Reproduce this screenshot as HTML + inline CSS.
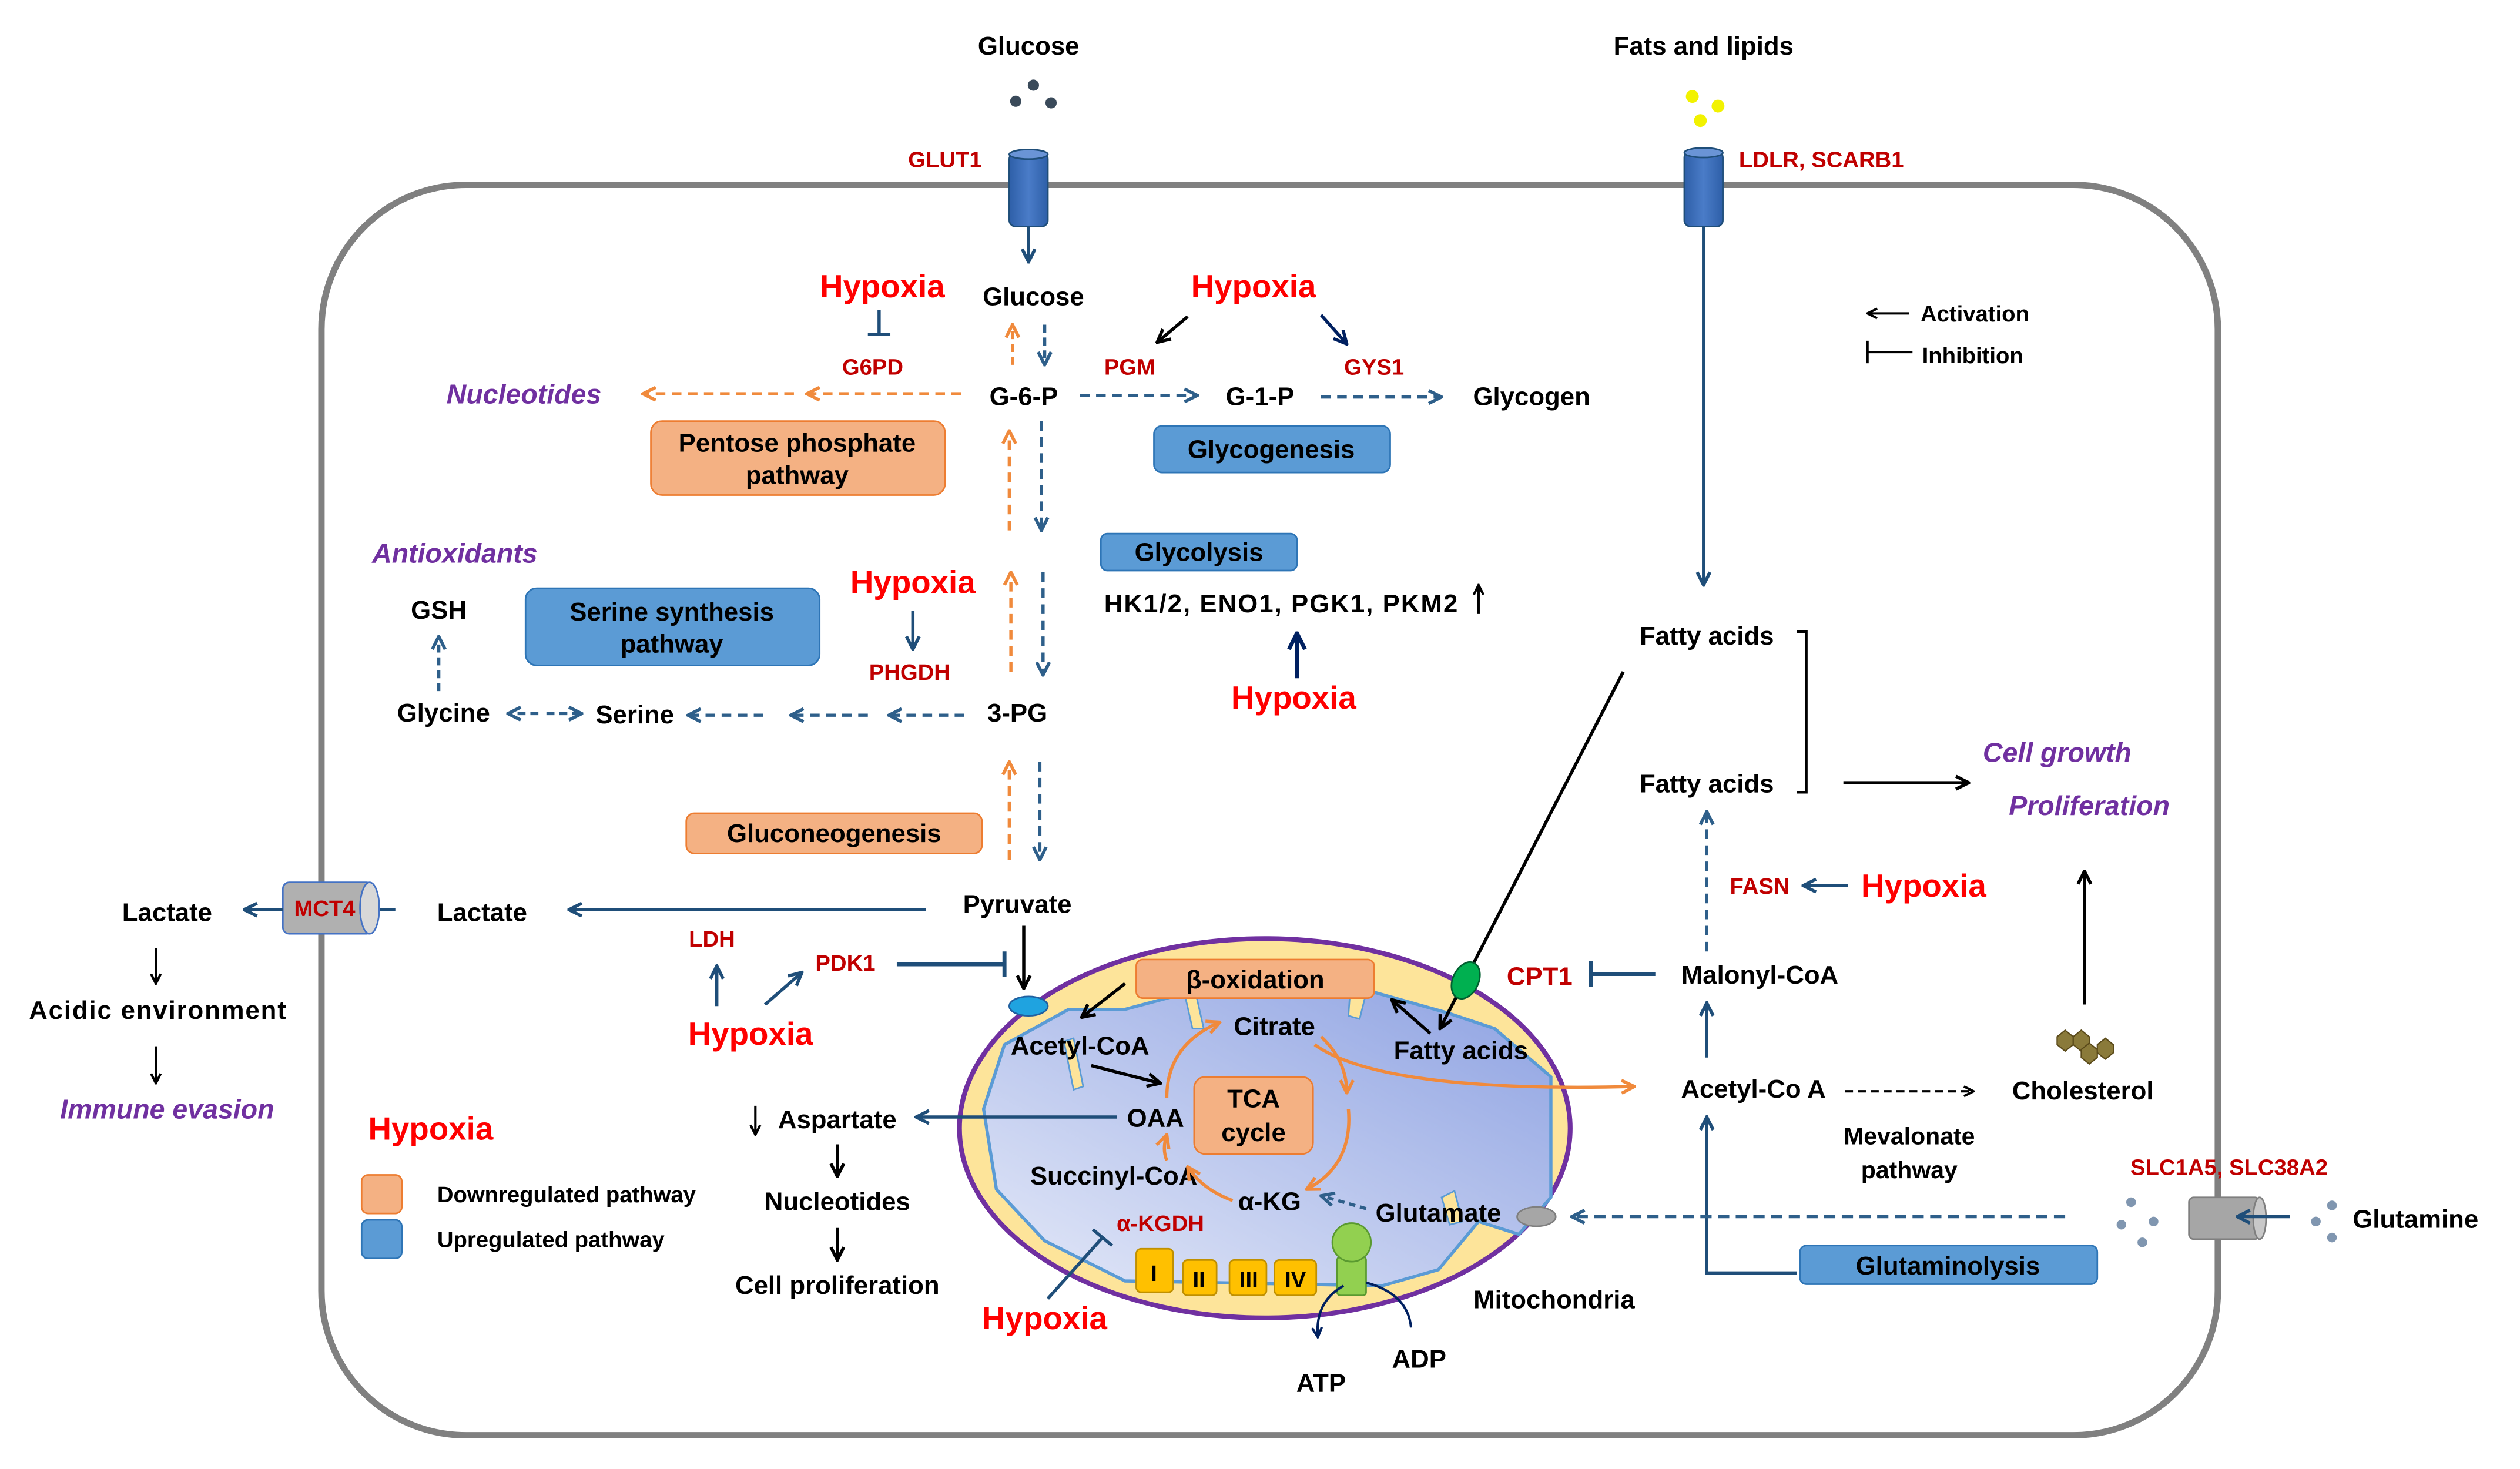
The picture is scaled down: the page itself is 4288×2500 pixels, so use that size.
<!DOCTYPE html>
<html><head><meta charset="utf-8"><style>
html,body{margin:0;padding:0;background:#fff}
svg{display:block}
text{font-family:"Liberation Sans",Arial,sans-serif;font-weight:bold}
</style></head><body>
<svg width="4288" height="2500" viewBox="0 0 1568 914" preserveAspectRatio="none" xmlns="http://www.w3.org/2000/svg">
<defs>
<marker id="ab" viewBox="0 0 10 10" refX="9" refY="5" markerWidth="5" markerHeight="5" orient="auto"><path d="M1 1L9 5L1 9" fill="none" stroke="#1f4e79" stroke-width="2"/></marker>
<marker id="ad" viewBox="0 0 10 10" refX="9" refY="5" markerWidth="5" markerHeight="5" orient="auto"><path d="M1 1L9 5L1 9" fill="none" stroke="#2e5f8a" stroke-width="2"/></marker>
<marker id="ak" viewBox="0 0 10 10" refX="9" refY="5" markerWidth="5" markerHeight="5" orient="auto"><path d="M1 1L9 5L1 9" fill="none" stroke="#000" stroke-width="2"/></marker>
<marker id="ao" viewBox="0 0 10 10" refX="9" refY="5" markerWidth="5" markerHeight="5" orient="auto"><path d="M1 1L9 5L1 9" fill="none" stroke="#f08a3c" stroke-width="2"/></marker>
<marker id="an" viewBox="0 0 10 10" refX="9" refY="5" markerWidth="5" markerHeight="5" orient="auto"><path d="M1 1L9 5L1 9" fill="none" stroke="#002060" stroke-width="2"/></marker>
<linearGradient id="mg" x1="0" y1="1" x2="1" y2="0"><stop offset="0" stop-color="#e4e9f8"/><stop offset="1" stop-color="#8ea2e2"/></linearGradient>
<linearGradient id="cb" x1="0" x2="1"><stop offset="0" stop-color="#2e5fa8"/><stop offset="0.5" stop-color="#4a7cc8"/><stop offset="1" stop-color="#2e5fa8"/></linearGradient>
</defs>

<rect x="200" y="115" width="1180" height="778" rx="90" fill="none" stroke="#808080" stroke-width="4"/>

<text x="640" y="34" font-size="16" text-anchor="middle">Glucose</text>
<circle cx="632" cy="63" r="3.5" fill="#3a4a5a"/><circle cx="643" cy="53" r="3.5" fill="#3a4a5a"/><circle cx="654" cy="64" r="3.5" fill="#3a4a5a"/>
<text x="588" y="104" font-size="14" fill="#c00000" text-anchor="middle">GLUT1</text>
<rect x="628" y="95" width="24" height="46" rx="4" fill="url(#cb)" stroke="#1f4e79"/>
<ellipse cx="640" cy="96" rx="12" ry="3" fill="#6a94d6" stroke="#1f4e79"/>
<line x1="640" y1="141" x2="640" y2="163" stroke="#1f4e79" stroke-width="2" marker-end="url(#ab)"/>

<text x="1060" y="34" font-size="16" text-anchor="middle">Fats and lipids</text>
<circle cx="1053" cy="60" r="4" fill="#f2f200"/><circle cx="1069" cy="66" r="4" fill="#f2f200"/><circle cx="1058" cy="75" r="4" fill="#f2f200"/>
<rect x="1048" y="94" width="24" height="47" rx="4" fill="url(#cb)" stroke="#1f4e79"/>
<ellipse cx="1060" cy="95" rx="12" ry="3" fill="#6a94d6" stroke="#1f4e79"/>
<text x="1082" y="104" font-size="14" fill="#c00000">LDLR, SCARB1</text>
<line x1="1060" y1="141" x2="1060" y2="364" stroke="#1f4e79" stroke-width="2" marker-end="url(#ab)"/>

<line x1="1188" y1="195" x2="1162" y2="195" stroke="#000" stroke-width="1.5" marker-end="url(#ak)"/>
<text x="1195" y="200" font-size="14">Activation</text>
<line x1="1162" y1="219" x2="1190" y2="219" stroke="#000" stroke-width="1.5"/><line x1="1162" y1="212" x2="1162" y2="226" stroke="#000" stroke-width="1.5"/>
<text x="1196" y="226" font-size="14">Inhibition</text>

<text x="549" y="185" font-size="20" fill="#ff0000" text-anchor="middle">Hypoxia</text>
<line x1="547" y1="193" x2="547" y2="208" stroke="#1f4e79" stroke-width="2"/><line x1="540" y1="208" x2="554" y2="208" stroke="#1f4e79" stroke-width="2"/>
<text x="543" y="233" font-size="14" fill="#c00000" text-anchor="middle">G6PD</text>
<text x="643" y="190" font-size="16" text-anchor="middle">Glucose</text>
<line x1="630" y1="227" x2="630" y2="202" stroke="#f08a3c" stroke-width="2" stroke-dasharray="5 3" marker-end="url(#ao)"/>
<line x1="650" y1="202" x2="650" y2="227" stroke="#2e5f8a" stroke-width="2" stroke-dasharray="5 3" marker-end="url(#ad)"/>
<text x="780" y="185" font-size="20" fill="#ff0000" text-anchor="middle">Hypoxia</text>
<line x1="739" y1="197" x2="720" y2="213" stroke="#000" stroke-width="2" marker-end="url(#ak)"/>
<line x1="822" y1="196" x2="838" y2="214" stroke="#002060" stroke-width="2" marker-end="url(#an)"/>
<text x="703" y="233" font-size="14" fill="#c00000" text-anchor="middle">PGM</text>
<text x="855" y="233" font-size="14" fill="#c00000" text-anchor="middle">GYS1</text>
<text x="326" y="251" font-size="17" fill="#7030a0" font-style="italic" text-anchor="middle">Nucleotides</text>
<line x1="598" y1="245" x2="502" y2="245" stroke="#f08a3c" stroke-width="2" stroke-dasharray="6 4" marker-end="url(#ao)"/>
<line x1="494" y1="245" x2="400" y2="245" stroke="#f08a3c" stroke-width="2" stroke-dasharray="6 4" marker-end="url(#ao)"/>
<text x="637" y="252" font-size="16" text-anchor="middle">G-6-P</text>
<line x1="672" y1="246" x2="745" y2="246" stroke="#2e5f8a" stroke-width="2" stroke-dasharray="6 4" marker-end="url(#ad)"/>
<text x="784" y="252" font-size="16" text-anchor="middle">G-1-P</text>
<line x1="822" y1="247" x2="897" y2="247" stroke="#2e5f8a" stroke-width="2" stroke-dasharray="6 4" marker-end="url(#ad)"/>
<text x="953" y="252" font-size="16" text-anchor="middle">Glycogen</text>
<rect x="405" y="262" width="183" height="46" rx="7" fill="#f4b183" stroke="#ed7d31"/>
<text x="496" y="281" font-size="16" text-anchor="middle">Pentose phosphate</text>
<text x="496" y="301" font-size="16" text-anchor="middle">pathway</text>
<rect x="718" y="265" width="147" height="29" rx="5" fill="#5b9bd5" stroke="#2e75b6"/>
<text x="791" y="285" font-size="16" text-anchor="middle">Glycogenesis</text>
<line x1="628" y1="330" x2="628" y2="268" stroke="#f08a3c" stroke-width="2" stroke-dasharray="6 4" marker-end="url(#ao)"/>
<line x1="648" y1="262" x2="648" y2="330" stroke="#2e5f8a" stroke-width="2" stroke-dasharray="6 4" marker-end="url(#ad)"/>
<rect x="685" y="332" width="122" height="23" rx="4" fill="#5b9bd5" stroke="#2e75b6"/>
<text x="746" y="349" font-size="16" text-anchor="middle">Glycolysis</text>
<text x="687" y="381" font-size="16" textLength="220">HK1/2, ENO1, PGK1, PKM2</text>
<line x1="920" y1="382" x2="920" y2="364" stroke="#000" stroke-width="1.5" marker-end="url(#ak)"/>
<line x1="807" y1="422" x2="807" y2="394" stroke="#002060" stroke-width="2.5" marker-end="url(#an)"/>
<text x="805" y="441" font-size="20" fill="#ff0000" text-anchor="middle">Hypoxia</text>

<text x="283" y="350" font-size="17" fill="#7030a0" font-style="italic" text-anchor="middle">Antioxidants</text>
<text x="568" y="369" font-size="20" fill="#ff0000" text-anchor="middle">Hypoxia</text>
<line x1="568" y1="380" x2="568" y2="404" stroke="#1f4e79" stroke-width="2" marker-end="url(#ab)"/>
<text x="566" y="423" font-size="14" fill="#c00000" text-anchor="middle">PHGDH</text>
<line x1="629" y1="418" x2="629" y2="356" stroke="#f08a3c" stroke-width="2" stroke-dasharray="6 4" marker-end="url(#ao)"/>
<line x1="649" y1="356" x2="649" y2="420" stroke="#2e5f8a" stroke-width="2" stroke-dasharray="6 4" marker-end="url(#ad)"/>
<rect x="327" y="366" width="183" height="48" rx="7" fill="#5b9bd5" stroke="#2e75b6"/>
<text x="418" y="386" font-size="16" text-anchor="middle">Serine synthesis</text>
<text x="418" y="406" font-size="16" text-anchor="middle">pathway</text>
<text x="273" y="385" font-size="16" text-anchor="middle">GSH</text>
<line x1="273" y1="430" x2="273" y2="396" stroke="#2e5f8a" stroke-width="2" stroke-dasharray="5 3" marker-end="url(#ad)"/>
<text x="276" y="449" font-size="16" text-anchor="middle">Glycine</text>
<line x1="335" y1="444" x2="316" y2="444" stroke="#2e5f8a" stroke-width="2" stroke-dasharray="5 3" marker-end="url(#ad)"/>
<line x1="340" y1="444" x2="362" y2="444" stroke="#2e5f8a" stroke-width="2" stroke-dasharray="5 3" marker-end="url(#ad)"/>
<text x="395" y="450" font-size="16" text-anchor="middle">Serine</text>
<line x1="475" y1="445" x2="428" y2="445" stroke="#2e5f8a" stroke-width="2" stroke-dasharray="6 4" marker-end="url(#ad)"/>
<line x1="540" y1="445" x2="492" y2="445" stroke="#2e5f8a" stroke-width="2" stroke-dasharray="6 4" marker-end="url(#ad)"/>
<line x1="600" y1="445" x2="553" y2="445" stroke="#2e5f8a" stroke-width="2" stroke-dasharray="6 4" marker-end="url(#ad)"/>
<text x="633" y="449" font-size="16" text-anchor="middle">3-PG</text>
<line x1="628" y1="535" x2="628" y2="474" stroke="#f08a3c" stroke-width="2" stroke-dasharray="6 4" marker-end="url(#ao)"/>
<line x1="647" y1="474" x2="647" y2="535" stroke="#2e5f8a" stroke-width="2" stroke-dasharray="6 4" marker-end="url(#ad)"/>
<rect x="427" y="506" width="184" height="25" rx="5" fill="#f4b183" stroke="#ed7d31"/>
<text x="519" y="524" font-size="16" text-anchor="middle">Gluconeogenesis</text>

<text x="633" y="568" font-size="16" text-anchor="middle">Pyruvate</text>
<line x1="576" y1="566" x2="354" y2="566" stroke="#1f4e79" stroke-width="2" marker-end="url(#ab)"/>
<text x="300" y="573" font-size="16" text-anchor="middle">Lactate</text>
<line x1="236" y1="566" x2="246" y2="566" stroke="#1f4e79" stroke-width="2"/>
<rect x="176" y="549" width="56" height="32" rx="4" fill="#b0b0b0" stroke="#4472c4"/>
<ellipse cx="230" cy="565" rx="6" ry="16" fill="#d8d8d8" stroke="#4472c4"/>
<text x="202" y="570" font-size="14" fill="#c00000" text-anchor="middle">MCT4</text>
<line x1="176" y1="566" x2="152" y2="566" stroke="#1f4e79" stroke-width="2" marker-end="url(#ab)"/>
<text x="104" y="573" font-size="16" text-anchor="middle">Lactate</text>
<line x1="97" y1="590" x2="97" y2="612" stroke="#000" stroke-width="1.5" marker-end="url(#ak)"/>
<text x="98" y="634" font-size="16" text-anchor="middle" textLength="160">Acidic environment</text>
<line x1="97" y1="651" x2="97" y2="674" stroke="#000" stroke-width="1.5" marker-end="url(#ak)"/>
<text x="104" y="696" font-size="17" fill="#7030a0" font-style="italic" text-anchor="middle">Immune evasion</text>
<text x="443" y="589" font-size="14" fill="#c00000" text-anchor="middle">LDH</text>
<line x1="446" y1="626" x2="446" y2="601" stroke="#1f4e79" stroke-width="2" marker-end="url(#ab)"/>
<text x="526" y="604" font-size="14" fill="#c00000" text-anchor="middle">PDK1</text>
<line x1="476" y1="625" x2="499" y2="605" stroke="#1f4e79" stroke-width="2" marker-end="url(#ab)"/>
<text x="467" y="650" font-size="20" fill="#ff0000" text-anchor="middle">Hypoxia</text>
<line x1="558" y1="600" x2="624" y2="600" stroke="#1f4e79" stroke-width="2.5"/><line x1="625" y1="592" x2="625" y2="608" stroke="#1f4e79" stroke-width="2.5"/>
<line x1="637" y1="576" x2="637" y2="615" stroke="#000" stroke-width="2" marker-end="url(#ak)"/>

<ellipse cx="787" cy="702" rx="190" ry="118" fill="#fde49a" stroke="#7030a0" stroke-width="3"/>
<path d="M625 650 L665 628 L700 628 L745 616 L850 616 L900 630 L930 640 L965 670 L965 745 L945 768 L920 760 L895 790 L860 800 L700 797 L650 772 L620 740 L612 690 Z" fill="url(#mg)" stroke="#5b9bd5" stroke-width="2"/>
<polygon points="662,648 668,646 674,676 668,678" fill="#fde49a" stroke="#5b9bd5"/>
<polygon points="737,618 744,618 749,640 742,640" fill="#fde49a" stroke="#5b9bd5"/>
<polygon points="840,618 850,618 846,634 839,632" fill="#fde49a" stroke="#5b9bd5"/>
<polygon points="897,745 905,741 910,760 902,762" fill="#fde49a" stroke="#5b9bd5"/>
<ellipse cx="640" cy="626" rx="12" ry="6" fill="#1fa3e0" stroke="#2060a0"/>
<rect x="707" y="597" width="148" height="24" rx="4" fill="#f4b183" stroke="#ed7d31"/>
<text x="781" y="615" font-size="16" text-anchor="middle">β-oxidation</text>
<line x1="1010" y1="418" x2="896" y2="640" stroke="#000" stroke-width="2" marker-end="url(#ak)"/>
<ellipse cx="912" cy="610" rx="8" ry="12" transform="rotate(25 912 610)" fill="#00b050" stroke="#006030"/>
<text x="958" y="613" font-size="16" fill="#c00000" text-anchor="middle">CPT1</text>
<line x1="1030" y1="606" x2="991" y2="606" stroke="#1f4e79" stroke-width="2.5"/><line x1="990" y1="598" x2="990" y2="614" stroke="#1f4e79" stroke-width="2.5"/>
<line x1="700" y1="612" x2="673" y2="633" stroke="#000" stroke-width="2" marker-end="url(#ak)"/>
<text x="672" y="656" font-size="16" text-anchor="middle">Acetyl-CoA</text>
<line x1="679" y1="663" x2="722" y2="674" stroke="#000" stroke-width="2" marker-end="url(#ak)"/>
<text x="793" y="644" font-size="16" text-anchor="middle">Citrate</text>
<line x1="890" y1="643" x2="866" y2="622" stroke="#000" stroke-width="2" marker-end="url(#ak)"/>
<text x="909" y="659" font-size="16" text-anchor="middle">Fatty acids</text>
<text x="719" y="701" font-size="16" text-anchor="middle">OAA</text>
<rect x="743" y="670" width="74" height="48" rx="7" fill="#f4b183" stroke="#ed7d31"/>
<text x="780" y="689" font-size="16" text-anchor="middle">TCA</text>
<text x="780" y="710" font-size="16" text-anchor="middle">cycle</text>
<text x="693" y="737" font-size="16" text-anchor="middle">Succinyl-CoA</text>
<text x="790" y="753" font-size="16" text-anchor="middle">α-KG</text>
<text x="895" y="760" font-size="16" text-anchor="middle">Glutamate</text>
<text x="722" y="766" font-size="14" fill="#c00000" text-anchor="middle">α-KGDH</text>
<line x1="850" y1="752" x2="822" y2="744" stroke="#2e5f8a" stroke-width="2" stroke-dasharray="4 3" marker-end="url(#ad)"/>
<path d="M726 683 Q726 650 759 636" fill="none" stroke="#f08a3c" stroke-width="2" marker-end="url(#ao)"/>
<path d="M822 645 Q838 660 838 680" fill="none" stroke="#f08a3c" stroke-width="2" marker-end="url(#ao)"/>
<path d="M839 690 Q842 725 813 740" fill="none" stroke="#f08a3c" stroke-width="2" marker-end="url(#ao)"/>
<path d="M767 747 Q748 740 739 726" fill="none" stroke="#f08a3c" stroke-width="2" marker-end="url(#ao)"/>
<path d="M726 722 Q723 715 726 706" fill="none" stroke="#f08a3c" stroke-width="2" marker-end="url(#ao)"/>
<path d="M818 650 Q860 680 1017 676" fill="none" stroke="#f08a3c" stroke-width="2" marker-end="url(#ao)"/>
<rect x="707" y="777" width="23" height="27" rx="3" fill="#ffc000" stroke="#c09000"/><text x="718" y="797" font-size="14" text-anchor="middle">I</text>
<rect x="736" y="784" width="21" height="22" rx="3" fill="#ffc000" stroke="#c09000"/><text x="746" y="801" font-size="14" text-anchor="middle">II</text>
<rect x="765" y="784" width="23" height="22" rx="3" fill="#ffc000" stroke="#c09000"/><text x="777" y="801" font-size="14" text-anchor="middle">III</text>
<rect x="793" y="784" width="26" height="22" rx="3" fill="#ffc000" stroke="#c09000"/><text x="806" y="801" font-size="14" text-anchor="middle">IV</text>
<rect x="832" y="782" width="18" height="24" rx="2" fill="#92d050" stroke="#5a9a30"/>
<circle cx="841" cy="773" r="12" fill="#92d050" stroke="#5a9a30"/>
<path d="M836 800 Q818 810 820 832" fill="none" stroke="#002060" stroke-width="1.5" marker-end="url(#an)"/>
<path d="M850 798 Q876 805 878 826" fill="none" stroke="#002060" stroke-width="1.5"/>
<text x="822" y="866" font-size="16" text-anchor="middle">ATP</text>
<text x="883" y="851" font-size="16" text-anchor="middle">ADP</text>
<text x="967" y="814" font-size="16" text-anchor="middle">Mitochondria</text>
<line x1="695" y1="695" x2="570" y2="695" stroke="#1f4e79" stroke-width="2" marker-end="url(#ab)"/>
<line x1="470" y1="688" x2="470" y2="706" stroke="#000" stroke-width="1.5" marker-end="url(#ak)"/>
<text x="521" y="702" font-size="16" text-anchor="middle">Aspartate</text>
<line x1="521" y1="712" x2="521" y2="732" stroke="#000" stroke-width="2" marker-end="url(#ak)"/>
<text x="521" y="753" font-size="16" text-anchor="middle">Nucleotides</text>
<line x1="521" y1="764" x2="521" y2="784" stroke="#000" stroke-width="2" marker-end="url(#ak)"/>
<text x="521" y="805" font-size="16" text-anchor="middle">Cell proliferation</text>
<text x="650" y="827" font-size="20" fill="#ff0000" text-anchor="middle">Hypoxia</text>
<line x1="652" y1="808" x2="686" y2="770" stroke="#1f4e79" stroke-width="2"/><line x1="680" y1="765" x2="692" y2="775" stroke="#1f4e79" stroke-width="2"/>
<text x="268" y="709" font-size="20" fill="#ff0000" text-anchor="middle">Hypoxia</text>
<rect x="225" y="731" width="25" height="24" rx="4" fill="#f4b183" stroke="#ed7d31"/>
<rect x="225" y="759" width="25" height="24" rx="4" fill="#5b9bd5" stroke="#2e75b6"/>
<text x="272" y="748" font-size="14">Downregulated pathway</text>
<text x="272" y="776" font-size="14">Upregulated pathway</text>

<text x="1062" y="401" font-size="16" text-anchor="middle">Fatty acids</text>
<text x="1062" y="493" font-size="16" text-anchor="middle">Fatty acids</text>
<polyline points="1118,393 1124,393 1124,493 1118,493" fill="none" stroke="#000" stroke-width="1.5"/>
<line x1="1147" y1="487" x2="1225" y2="487" stroke="#000" stroke-width="2" marker-end="url(#ak)"/>
<text x="1280" y="474" font-size="17" fill="#7030a0" font-style="italic" text-anchor="middle">Cell growth</text>
<text x="1300" y="507" font-size="17" fill="#7030a0" font-style="italic" text-anchor="middle">Proliferation</text>
<line x1="1062" y1="592" x2="1062" y2="505" stroke="#2e5f8a" stroke-width="2" stroke-dasharray="6 4" marker-end="url(#ad)"/>
<text x="1095" y="556" font-size="14" fill="#c00000" text-anchor="middle">FASN</text>
<line x1="1150" y1="551" x2="1122" y2="551" stroke="#1f4e79" stroke-width="2" marker-end="url(#ab)"/>
<text x="1197" y="558" font-size="20" fill="#ff0000" text-anchor="middle">Hypoxia</text>
<text x="1095" y="612" font-size="16" text-anchor="middle">Malonyl-CoA</text>
<line x1="1062" y1="658" x2="1062" y2="624" stroke="#1f4e79" stroke-width="2" marker-end="url(#ab)"/>
<text x="1091" y="683" font-size="16" text-anchor="middle">Acetyl-Co A</text>
<line x1="1148" y1="679" x2="1228" y2="679" stroke="#000" stroke-width="1.5" stroke-dasharray="5 3" marker-end="url(#ak)"/>
<text x="1188" y="712" font-size="15" text-anchor="middle">Mevalonate</text>
<text x="1188" y="733" font-size="15" text-anchor="middle">pathway</text>
<text x="1296" y="684" font-size="16" text-anchor="middle">Cholesterol</text>
<line x1="1297" y1="625" x2="1297" y2="542" stroke="#000" stroke-width="2" marker-end="url(#ak)"/>
<g fill="#8a7a3a" stroke="#5a4a1a" stroke-width="0.8">
<polygon points="1280,645 1285,641 1290,645 1290,650 1285,654 1280,650"/>
<polygon points="1290,645 1295,641 1300,645 1300,650 1295,654 1290,650"/>
<polygon points="1295,653 1300,649 1305,653 1305,658 1300,662 1295,658"/>
<polygon points="1305,650 1310,646 1315,650 1315,655 1310,659 1305,655"/>
</g>
<polyline points="1118,792 1062,792 1062,695" fill="none" stroke="#1f4e79" stroke-width="2" marker-end="url(#ab)"/>
<rect x="1120" y="775" width="185" height="24" rx="4" fill="#5b9bd5" stroke="#2e75b6"/>
<text x="1212" y="793" font-size="16" text-anchor="middle">Glutaminolysis</text>
<text x="1387" y="731" font-size="14" fill="#c00000" text-anchor="middle">SLC1A5, SLC38A2</text>
<rect x="1362" y="745" width="44" height="26" rx="3" fill="#a6a6a6" stroke="#7f7f7f"/>
<ellipse cx="1406" cy="758" rx="4" ry="13" fill="#c8c8c8" stroke="#7f7f7f"/>
<line x1="1425" y1="757" x2="1392" y2="757" stroke="#1f4e79" stroke-width="2" marker-end="url(#ab)"/>
<g fill="#8096b0"><circle cx="1326" cy="748" r="3"/><circle cx="1320" cy="762" r="3"/><circle cx="1333" cy="773" r="3"/><circle cx="1340" cy="760" r="3"/>
<circle cx="1451" cy="750" r="3"/><circle cx="1441" cy="760" r="3"/><circle cx="1451" cy="770" r="3"/></g>
<text x="1503" y="764" font-size="16" text-anchor="middle">Glutamine</text>
<line x1="1285" y1="757" x2="978" y2="757" stroke="#2e5f8a" stroke-width="2" stroke-dasharray="7 4" marker-end="url(#ad)"/>
<ellipse cx="956" cy="757" rx="12" ry="6" fill="#a6a6a6" stroke="#7f7f7f"/>
</svg>
</body></html>
